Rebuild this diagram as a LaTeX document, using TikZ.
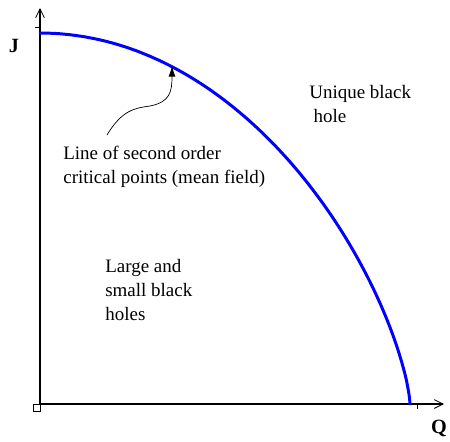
\documentclass[tikz,border=0pt]{standalone}
\usepackage{fontspec}
\setmainfont{Liberation Serif}
\usetikzlibrary{arrows.meta}
\tikzset{
  lbl/.style={align=left, anchor=base west, inner sep=0pt, font=\fontsize{10.8}{13.6}\selectfont},
  axlbl/.style={inner sep=0pt, font=\fontsize{11.5}{13}\selectfont\bfseries},
  axis/.style={line width=0.8pt, -{Straight Barb[length=5pt,width=5pt,line width=0.5pt]}},
}
\begin{document}
\begin{tikzpicture}[x=0.02cm, y=-0.02cm]
        \useasboundingbox (0,0) rectangle (450,441);
        % Assi
        \coordinate (O) at (40,404);
        \coordinate (ytop) at (40,8);
        \coordinate (xend) at (444,404);
        \draw [axis] (O) -- (ytop);
        \draw [axis] (O) -- (xend);
        \draw [thin] (33,404) rectangle (40,411);
        \draw [thin] (35,27) -- (40,27);
        \draw [thin] (417,404) -- (417,409);
        \node [axlbl] (J) at (14,46) {J};
        \node [axlbl] (Q) at (439,428) {Q};
        % Curva
        \draw [blue, line width=1.7pt, line cap=round]
          plot [domain=0:89.8, samples=120] ({40+370*sin(\x)}, {404-371*(cos(\x))^1.4}) -- (410,404);
        % Testi (base = ultima riga)
        \node [lbl] (crit) at (63,183) {Line of second order\\critical points (mean field)};
        \node [lbl] (unique) at (309,122) {Unique black\\\hspace*{2.5pt}hole};
        \node [lbl] (large) at (105,320) {Large and\\small black\\holes};
        % Freccia
        \coordinate (tail) at (107,135);
        \coordinate (tip) at (172,66);
        \draw [-{Latex[length=6pt,width=4pt]}, thin] (tail) .. controls (122,110) and (135,108) .. (150,106)
          .. controls (170,102) and (172,92) .. (tip);
    \end{tikzpicture}
\end{document}
